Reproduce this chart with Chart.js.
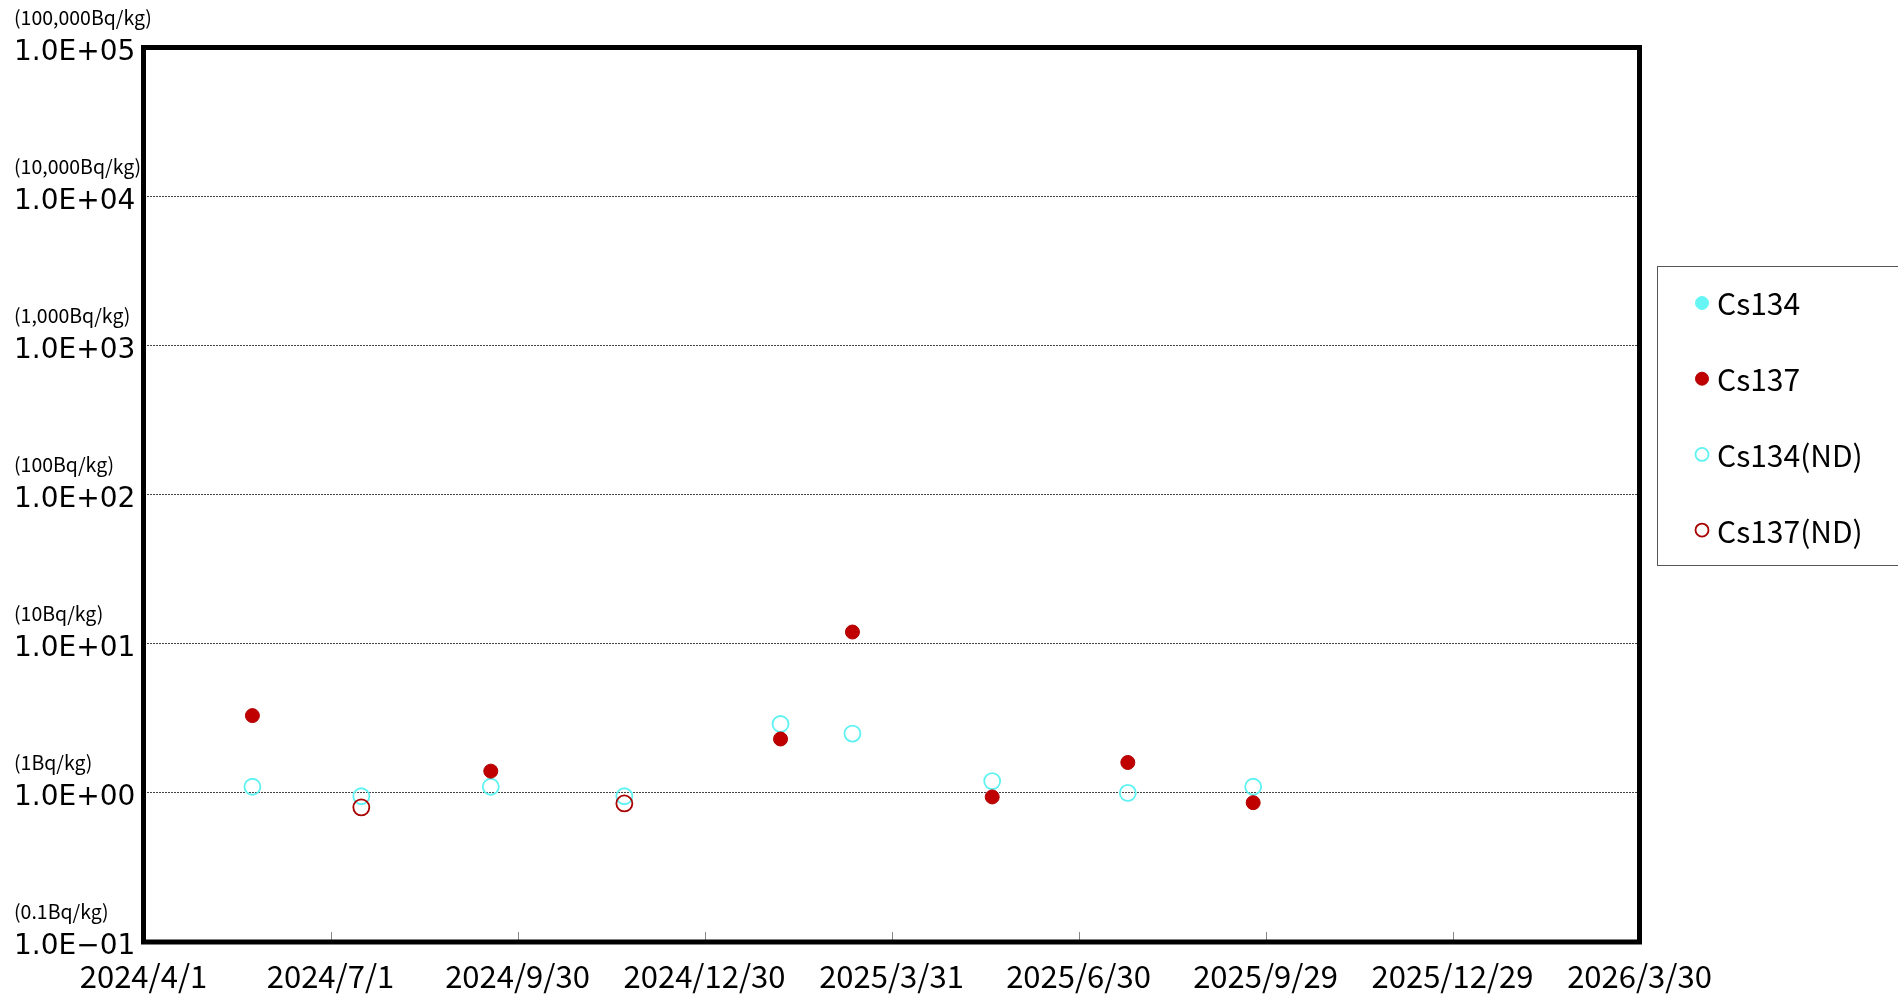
<!DOCTYPE html>
<html>
<head>
<meta charset="utf-8">
<script src="https://cdn.jsdelivr.net/npm/chart.js@4/dist/chart.umd.min.js"></script>
<style>
  body { margin: 0; background: #fff; }
</style>
</head>
<body>
<canvas id="myChart" width="1898" height="995"></canvas>
<script>
// sampling dates
const sampleDates = ['2024-05-24', '2024-07-16', '2024-09-17', '2024-11-21', '2025-02-05',
                     '2025-03-12', '2025-05-19', '2025-07-24', '2025-09-23'];
// Bq/kg, null = no point for that series
const cs134 = [null, null, null, null, null, null, null, null, null];
const cs137 = [3.3, null, 1.4, null, 2.3, 12, 0.94, 1.6, 0.86];
const cs134ND = [1.1, 0.95, 1.1, 0.95, 2.9, 2.5, 1.2, 1.0, 1.1];
const cs137ND = [null, 0.80, null, 0.85, null, null, null, null, null];

const xTickLabels = ['2024/4/1', '2024/7/1', '2024/9/30', '2024/12/30', '2025/3/31',
                     '2025/6/30', '2025/9/29', '2025/12/29', '2026/3/30'];
const yTickValues = [0.1, 1, 10, 100, 1000, 10000, 100000];
const yTickLabels = ['1.0E\u221201', '1.0E+00', '1.0E+01', '1.0E+02', '1.0E+03', '1.0E+04', '1.0E+05'];
const yUnitLabels = ['(0.1Bq/kg)', '(1Bq/kg)', '(10Bq/kg)', '(100Bq/kg)', '(1,000Bq/kg)', '(10,000Bq/kg)', '(100,000Bq/kg)'];

const FONT = '"Noto Sans CJK JP", "Noto Sans", sans-serif';
const startDay = Date.UTC(2024, 3, 1);

const dayOf = (s) => {
    let [y, m, d] = s.split(/[-\/]/).map(Number);
    return Math.round((Date.UTC(y, m - 1, d) - startDay) / 86400000);
};

const toPoints = (vals) => sampleDates
    .map((d, i) => vals[i] == null ? null : { x: dayOf(d), y: vals[i] })
    .filter(p => p);

// frame, inner tick marks, unit labels and legend box
const extras = {
    id: 'extras',
    beforeDatasetsDraw(chart) {
        const ctx = chart.ctx;
        const a = chart.chartArea;
        const xs = chart.scales.x;
        ctx.save();
        ctx.strokeStyle = '#888';
        ctx.lineWidth = 1;
        xs.ticks.forEach((t, i) => {
            let px = Math.round(xs.getPixelForTick(i)) + 0.5;
            ctx.beginPath();
            ctx.moveTo(px, a.bottom);
            ctx.lineTo(px, a.bottom - 10);
            ctx.stroke();
        });
        ctx.strokeStyle = '#000';
        ctx.lineWidth = 5;
        ctx.strokeRect(a.left, a.top, a.right - a.left, a.bottom - a.top);
        ctx.restore();
    },
    afterDraw(chart) {
        const ctx = chart.ctx;
        const ys = chart.scales.y;
        ctx.save();
        ctx.fillStyle = '#000';
        ctx.font = '19.5px ' + FONT;
        ctx.textAlign = 'left';
        ctx.textBaseline = 'middle';
        yTickValues.forEach((v, i) => {
            ctx.fillText(yUnitLabels[i], 14, ys.getPixelForValue(v) - 30);
        });

        // legend
        const bx = 1657.5, by = 266.5;
        ctx.strokeStyle = '#555';
        ctx.lineWidth = 1;
        ctx.strokeRect(bx, by, 300, 299);
        ctx.font = '30px ' + FONT;
        chart.data.datasets.forEach((ds, i) => {
            let cy = 303 + i * 75.7;
            ctx.beginPath();
            ctx.arc(1702, cy, 6.5, 0, Math.PI * 2);
            if (ds.pointBackgroundColor !== 'rgba(0,0,0,0)') {
                ctx.fillStyle = ds.pointBackgroundColor;
                ctx.fill();
            }
            ctx.strokeStyle = ds.pointBorderColor;
            ctx.lineWidth = ds.pointBorderWidth;
            ctx.stroke();
            ctx.fillStyle = '#000';
            ctx.fillText(ds.label, 1717, cy + 1);
        });
        ctx.restore();
    }
};

const ctx = document.getElementById('myChart').getContext('2d');

const data = {
    datasets: [
        {
            label: 'Cs134',
            data: toPoints(cs134),
            pointBackgroundColor: '#66F5F5',
            pointBorderColor: '#66F5F5',
            pointBorderWidth: 1,
            pointRadius: 7,
            order: 4
        },
        {
            label: 'Cs137',
            data: toPoints(cs137),
            pointBackgroundColor: '#C00000',
            pointBorderColor: '#B00000',
            pointBorderWidth: 1,
            pointRadius: 7,
            order: 1
        },
        {
            label: 'Cs134(ND)',
            data: toPoints(cs134ND),
            pointBackgroundColor: 'rgba(0,0,0,0)',
            pointBorderColor: '#5EF2F2',
            pointBorderWidth: 1.8,
            pointRadius: 8,
            order: 3
        },
        {
            label: 'Cs137(ND)',
            data: toPoints(cs137ND),
            pointBackgroundColor: 'rgba(0,0,0,0)',
            pointBorderColor: '#A80000',
            pointBorderWidth: 1.8,
            pointRadius: 8,
            order: 2
        }
    ]
};

const myChart = new Chart(ctx, {
    type: 'scatter',
    data: data,
    plugins: [extras],
    options: {
        responsive: false,
        animation: false,
        layout: {
            padding: { left: 14, top: 47.5, right: 258.5, bottom: 0 }
        },
        plugins: {
            legend: { display: false },
            tooltip: { enabled: false }
        },
        scales: {
            x: {
                type: 'linear',
                min: dayOf(xTickLabels[0]),
                max: dayOf(xTickLabels[xTickLabels.length - 1]),
                afterBuildTicks: (scale) => {
                    scale.ticks = xTickLabels.map(l => ({ value: dayOf(l) }));
                },
                afterFit: (scale) => { scale.height = 53; },
                grid: { display: false },
                border: { display: false },
                ticks: {
                    autoSkip: false,
                    maxRotation: 0,
                    padding: 8,
                    color: '#000',
                    font: { family: FONT, size: 31 },
                    callback: (v, i) => xTickLabels[i]
                }
            },
            y: {
                type: 'logarithmic',
                min: yTickValues[0],
                max: yTickValues[yTickValues.length - 1],
                afterBuildTicks: (scale) => {
                    scale.ticks = yTickValues.map(v => ({ value: v }));
                },
                afterFit: (scale) => { scale.width = 129.5; },
                grid: {
                    color: '#444',
                    lineWidth: 1,
                    drawTicks: false
                },
                border: { display: false, dash: [2, 1] },
                ticks: {
                    crossAlign: 'far',
                    padding: 0,
                    labelOffset: 5,
                    color: '#000',
                    font: { family: '"DejaVu Sans", sans-serif', size: 28 },
                    callback: (v, i) => yTickLabels[i]
                }
            }
        }
    }
});
</script>
</body>
</html>
